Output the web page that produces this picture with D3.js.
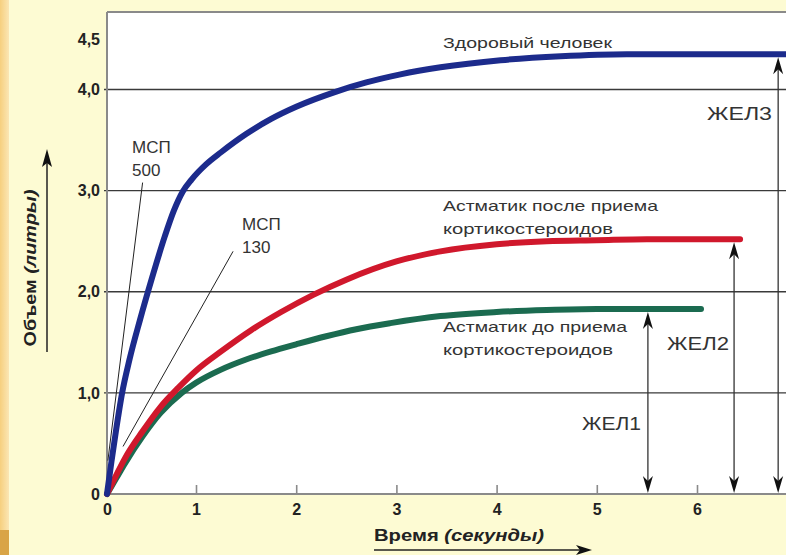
<!DOCTYPE html>
<html>
<head>
<meta charset="utf-8">
<script src="https://cdn.jsdelivr.net/npm/d3@7"></script>
<style>
  html, body { margin: 0; padding: 0; background: #fdfbd3; }
  svg { display: block; }
  text { font-family: "Liberation Sans", Arial, sans-serif; }
</style>
</head>
<body>
<svg id="chart" width="786" height="555"></svg>
<script>
// ---------- data ----------
const timeTicks = [0, 1, 2, 3, 4, 5, 6];
const timeTickLabels = ["0", "1", "2", "3", "4", "5", "6"];
const volumeTicks = [0, 1, 2, 3, 4, 4.5];
const volumeTickLabels = ["0", "1,0", "2,0", "3,0", "4,0", "4,5"];
const gridValues = [1, 2, 3, 4];

// Здоровый человек
const healthyT = [0, 0.05, 0.1, 0.17, 0.25, 0.37, 0.5, 0.65, 0.75, 0.85, 0.95, 1.1, 1.25, 1.5, 1.75, 2.0, 2.4, 2.7, 3.04, 3.44, 4.04, 4.64, 5.3, 6.0, 6.9];
const healthyV = [0, 0.32, 0.62, 1.0, 1.32, 1.72, 2.12, 2.55, 2.8, 2.99, 3.11, 3.26, 3.38, 3.56, 3.71, 3.83, 3.98, 4.07, 4.15, 4.22, 4.29, 4.33, 4.35, 4.35, 4.35];

// Астматик после приема кортикостероидов
const afterT = [0, 0.1, 0.2, 0.4, 0.6, 0.8, 1.0, 1.25, 1.55, 1.85, 2.17, 2.5, 3.0, 3.44, 4.0, 4.5, 5.0, 5.5, 6.0, 6.43];
const afterV = [0, 0.18, 0.35, 0.62, 0.86, 1.05, 1.22, 1.41, 1.62, 1.8, 1.97, 2.12, 2.3, 2.4, 2.47, 2.5, 2.51, 2.52, 2.52, 2.52];

// Астматик до приема кортикостероидов
const beforeT = [0, 0.1, 0.2, 0.4, 0.6, 0.84, 1.0, 1.25, 1.5, 1.75, 2.0, 2.3, 2.6, 2.94, 3.44, 4.0, 4.5, 5.0, 5.5, 6.04];
const beforeV = [0, 0.15, 0.3, 0.57, 0.8, 1.0, 1.1, 1.23, 1.33, 1.41, 1.48, 1.56, 1.63, 1.69, 1.76, 1.8, 1.82, 1.83, 1.83, 1.83];

// ЖЕЛ arrows (time, volume top)
const vcLabels = ["ЖЕЛ1", "ЖЕЛ2", "ЖЕЛ3"];
const vcTimes = [5.51, 6.37, 6.81];
const vcVolumes = [1.83, 2.52, 4.35];

// МСП tangent lines: [t0, v0, t1, v1]
const mspLabels = [["МСП", "500"], ["МСП", "130"]];
const mspLines = [[0.01, 0.33, 0.40, 3.08], [0.18, 0.47, 1.37, 2.40]];

// curve labels
const curveLabels = [["Здоровый человек"], ["Астматик после приема", "кортикостероидов"], ["Астматик до приема", "кортикостероидов"]];

// ---------- layout ----------
const svg = d3.select("#chart");
const W = 786, H = 555;
const plotLeft = 107, plotTop = 12, plotBottom = 494, plotRight = 786;

const x = d3.scaleLinear().domain([0, 1, 6]).range([107, 196, 697]);
const y = d3.scaleLinear().domain([0, 4.5]).range([494, 39]);

// background
const defs = svg.append("defs");
const g1 = defs.append("linearGradient").attr("id", "strip").attr("x1", 0).attr("x2", 1).attr("y1", 0).attr("y2", 0);
g1.append("stop").attr("offset", "0%").attr("stop-color", "#f6cf7e");
g1.append("stop").attr("offset", "100%").attr("stop-color", "#fbe6b4");
svg.append("rect").attr("width", W).attr("height", H).attr("fill", "#fdfbd3");
svg.append("rect").attr("x", 0).attr("y", 0).attr("width", 9).attr("height", H).attr("fill", "url(#strip)");
svg.append("rect").attr("x", 0).attr("y", 530).attr("width", 9).attr("height", 25).attr("fill", "#d9a446");

function arrowPath(xc, tipY, dir) {
  // dir = -1 points up, +1 points down
  const L = 17, hw = 5;
  const b = tipY - dir * L;
  const n = tipY - dir * (L - 5);
  return `M${xc},${tipY} L${xc - hw},${b} L${xc},${n} L${xc + hw},${b} Z`;
}

// plot area
svg.append("rect").attr("x", plotLeft).attr("y", plotTop).attr("width", plotRight - plotLeft).attr("height", plotBottom - plotTop).attr("fill", "#ffffff");

// gridlines
svg.append("g").selectAll("line").data(gridValues).join("line")
  .attr("x1", plotLeft - 3).attr("x2", plotRight)
  .attr("y1", d => y(d)).attr("y2", d => y(d))
  .attr("stroke", "#3a3a3a").attr("stroke-width", 1.4);

// frame (top + left)
svg.append("line").attr("x1", plotLeft).attr("x2", plotRight).attr("y1", plotTop).attr("y2", plotTop)
  .attr("stroke", "#8a8a8a").attr("stroke-width", 2);
svg.append("line").attr("x1", plotLeft).attr("x2", plotLeft).attr("y1", plotTop).attr("y2", plotBottom)
  .attr("stroke", "#8a8a8a").attr("stroke-width", 2);

// x axis
const xAxis = d3.axisBottom(x).tickValues(timeTicks).tickFormat((d, i) => timeTickLabels[i])
  .tickSizeInner(-9).tickSizeOuter(0).tickPadding(10);
const gx = svg.append("g").attr("transform", `translate(0,${plotBottom})`).call(xAxis);
gx.select(".domain").remove();
gx.selectAll(".tick line").attr("stroke", "#8a8a8a").attr("stroke-width", 1.6);
gx.selectAll(".tick").filter(d => d === 0).select("line").remove();
gx.selectAll(".tick text").attr("font-size", 16).attr("font-weight", "bold").attr("fill", "#222")
  .attr("font-family", "'Liberation Sans', Arial, sans-serif");
svg.append("line").attr("x1", plotLeft).attr("x2", plotRight).attr("y1", plotBottom).attr("y2", plotBottom)
  .attr("stroke", "#8a8a8a").attr("stroke-width", 2.2);

// y axis labels
const yAxis = d3.axisLeft(y).tickValues(volumeTicks).tickFormat((d, i) => volumeTickLabels[i])
  .tickSizeInner(0).tickSizeOuter(0).tickPadding(7);
const gy = svg.append("g").attr("transform", `translate(${plotLeft},0)`).call(yAxis);
gy.select(".domain").remove();
gy.selectAll(".tick line").remove();
gy.selectAll(".tick text").attr("font-size", 16).attr("font-weight", "bold").attr("fill", "#222")
  .attr("font-family", "'Liberation Sans', Arial, sans-serif");

// МСП tangent lines
svg.append("g").selectAll("line").data(mspLines).join("line")
  .attr("x1", d => x(d[0])).attr("y1", d => y(d[1]))
  .attr("x2", d => x(d[2])).attr("y2", d => y(d[3]))
  .attr("stroke", "#222").attr("stroke-width", 1);

// curves
const line = d3.line().x(d => x(d[0])).y(d => y(d[1])).curve(d3.curveMonotoneX);
const series = [
  { t: beforeT, v: beforeV, color: "#1b6b50" },
  { t: afterT, v: afterV, color: "#d0182c" },
  { t: healthyT, v: healthyV, color: "#1c2b8c" }
];
svg.append("g").selectAll("path").data(series).join("path")
  .attr("d", s => line(s.t.map((t, i) => [t, s.v[i]])))
  .attr("fill", "none").attr("stroke", s => s.color).attr("stroke-width", 6)
  .attr("stroke-linecap", "round").attr("stroke-linejoin", "round");

// ЖЕЛ arrows
const vc = svg.append("g");
vcTimes.forEach((t, i) => {
  const xc = x(t);
  const top = y(vcVolumes[i]) + 3;
  const bot = plotBottom - 1;
  vc.append("line").attr("x1", xc).attr("x2", xc).attr("y1", top + 8).attr("y2", bot - 8)
    .attr("stroke", "#333").attr("stroke-width", 1.3);
  vc.append("path").attr("d", arrowPath(xc, top, -1)).attr("fill", "#111");
  vc.append("path").attr("d", arrowPath(xc, bot, 1)).attr("fill", "#111");
});
const vcLabelPos = [[641, 430], [729, 350], [772, 120]];
vc.selectAll("text").data(vcLabels).join("text")
  .attr("x", (d, i) => vcLabelPos[i][0]).attr("y", (d, i) => vcLabelPos[i][1])
  .attr("text-anchor", "end").attr("font-size", 18).attr("fill", "#333")
  .attr("textLength", (d, i) => [59, 62, 65][i]).attr("lengthAdjust", "spacingAndGlyphs")
  .text(d => d);

// МСП labels
const mspPos = [[132, 153], [242, 230]];
mspLabels.forEach((lines, i) => {
  lines.forEach((s, j) => {
    svg.append("text").attr("x", mspPos[i][0]).attr("y", mspPos[i][1] + j * 23)
      .attr("font-size", 17).attr("fill", "#333").text(s);
  });
});

// curve labels
const clPos = [[443, 48, [169]], [443, 211, [215, 170]], [443, 332, [184, 170]]];
curveLabels.forEach((lines, i) => {
  lines.forEach((s, j) => {
    svg.append("text").attr("x", clPos[i][0]).attr("y", clPos[i][1] + j * 23)
      .attr("font-size", 14.5).attr("fill", "#333")
      .attr("textLength", clPos[i][2][j]).attr("lengthAdjust", "spacingAndGlyphs")
      .text(s);
  });
});

// axis titles
const xt = svg.append("text").attr("x", 374).attr("y", 541).attr("font-size", 17).attr("font-weight", "bold")
  .attr("fill", "#222").attr("textLength", 170).attr("lengthAdjust", "spacingAndGlyphs");
xt.append("tspan").text("Время ");
xt.append("tspan").attr("font-style", "italic").text("(секунды)");
svg.append("line").attr("x1", 374).attr("x2", 580).attr("y1", 550).attr("y2", 550).attr("stroke", "#222").attr("stroke-width", 1.5);
svg.append("path").attr("d", "M592,550 L576,545 L580,550 L576,555 Z").attr("fill", "#111");

const yt = svg.append("text").attr("transform", "translate(36,268) rotate(-90)").attr("text-anchor", "middle")
  .attr("font-size", 16).attr("font-weight", "bold").attr("fill", "#222")
  .attr("textLength", 157).attr("lengthAdjust", "spacingAndGlyphs");
yt.append("tspan").text("Объем ");
yt.append("tspan").attr("font-style", "italic").text("(литры)");
svg.append("line").attr("x1", 47).attr("x2", 47).attr("y1", 352).attr("y2", 162).attr("stroke", "#222").attr("stroke-width", 1.5);
svg.append("path").attr("d", "M47,149 L42,167 L47,163 L52,167 Z").attr("fill", "#111");
</script>
</body>
</html>
